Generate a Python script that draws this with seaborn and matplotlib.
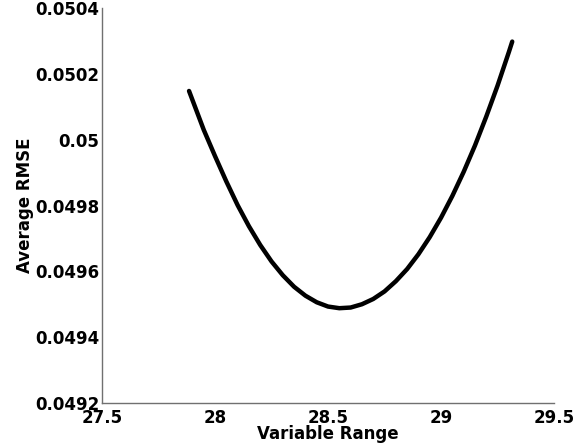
import matplotlib
matplotlib.use("Agg")
import matplotlib.pyplot as plt
import seaborn as sns
import pandas as pd

variable_range = [27.885, 27.95, 28.0, 28.05, 28.1, 28.15, 28.2, 28.25, 28.3, 28.35,
                  28.4, 28.45, 28.5, 28.55, 28.6, 28.65, 28.7, 28.75, 28.8, 28.85,
                  28.9, 28.95, 29.0, 29.05, 29.1, 29.15, 29.2, 29.25, 29.3, 29.315]
average_rmse = [0.050148, 0.050030, 0.049950, 0.049873, 0.049801, 0.049737, 0.049680,
                0.049630, 0.049588, 0.049553, 0.049526, 0.049506, 0.049493, 0.049488,
                0.049490, 0.049500, 0.049516, 0.049539, 0.049570, 0.049607, 0.049652,
                0.049704, 0.049763, 0.049829, 0.049902, 0.049982, 0.050070, 0.050164,
                0.050266, 0.050298]
x_ticks = [27.5, 28, 28.5, 29, 29.5]
x_tick_labels = ["27.5", "28", "28.5", "29", "29.5"]
y_ticks = [0.0492, 0.0494, 0.0496, 0.0498, 0.05, 0.0502, 0.0504]
y_tick_labels = ["0.0492", "0.0494", "0.0496", "0.0498", "0.05", "0.0502", "0.0504"]

sns.set_style("white")
plt.rcParams['font.family'] = ['DejaVu Sans']

df = pd.DataFrame({"x": variable_range, "y": average_rmse})

fig = plt.figure(figsize=(5.81, 4.45), dpi=100)
ax = fig.add_axes([0.1756, 0.0944, 0.778, 0.8876])
sns.lineplot(data=df, x="x", y="y", ax=ax, color="black", linewidth=3.2)

ax.set_xlim(27.5, 29.5)
ax.set_ylim(0.0492, 0.0504)
ax.set_xticks(x_ticks)
ax.set_xticklabels(x_tick_labels, fontsize=12, fontweight="bold")
ax.set_yticks(y_ticks)
ax.set_yticklabels(y_tick_labels, fontsize=12, fontweight="bold")
ax.set_xlabel("Variable Range", fontsize=12, fontweight="bold", labelpad=-1,
              color="black")
ax.set_ylabel("Average RMSE", fontsize=12, fontweight="bold", labelpad=1,
              color="black")

for side in ["top", "right"]:
    ax.spines[side].set_visible(False)
for side in ["left", "bottom"]:
    ax.spines[side].set_color("#707070")
    ax.spines[side].set_linewidth(1.0)
ax.tick_params(axis="y", direction="in", length=3, width=0.8, color="#707070",
               pad=2, labelcolor="black")
ax.tick_params(axis="x", direction="in", length=3, width=0.8, color="#707070",
               pad=4, labelcolor="black")

fig.savefig("out.png", dpi=100)
